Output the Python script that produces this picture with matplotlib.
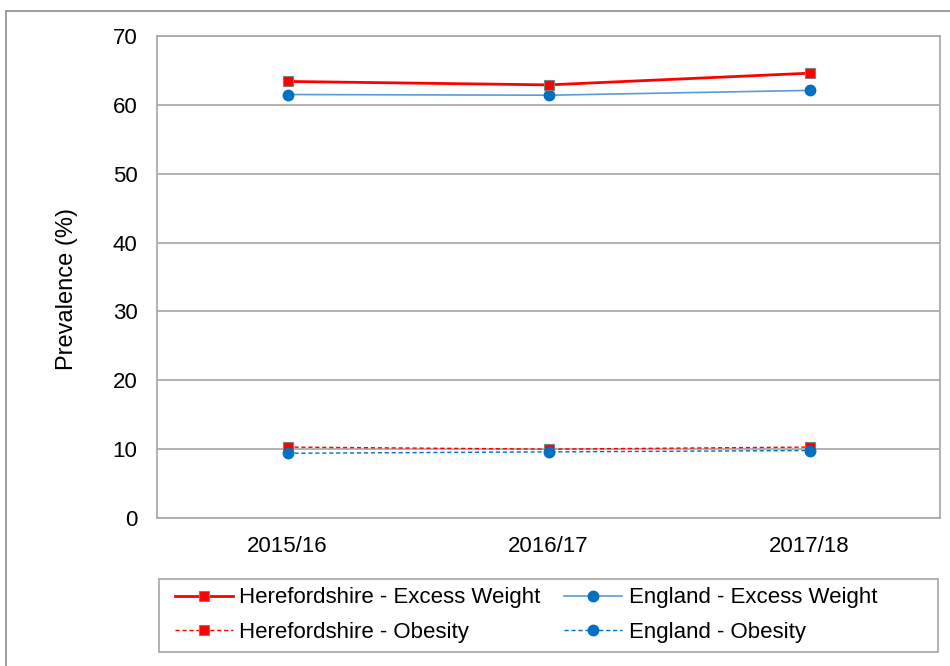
import matplotlib.pyplot as plt
from matplotlib.patches import Rectangle

plt.rcParams['font.family'] = ['Liberation Sans', 'DejaVu Sans']

years = ['2015/16', '2016/17', '2017/18']
here_excess = [63.4, 62.9, 64.6]
eng_excess = [61.5, 61.4, 62.1]
here_obesity = [10.3, 10.0, 10.3]
eng_obesity = [9.4, 9.6, 9.8]

red = '#ff0000'
blue = '#0070c0'
grey = '#a6a6a6'

W, H = 950, 666
fig = plt.figure(figsize=(W / 100, H / 100), dpi=100)
ax = fig.add_axes([157 / W, 148 / H, 783 / W, 482 / H])

# outer chart border (only top and left visible)
fig.patches.append(Rectangle((6 / W, -0.1), 1.2, 1.1 - 11 / H,
                             transform=fig.transFigure, fill=False,
                             edgecolor='#8c8c8c', linewidth=1.2))

x = range(len(years))
h1, = ax.plot(x, here_excess, color=red, lw=2, marker='s', ms=7.5,
              mec='#808080', mew=0.8, label='Herefordshire - Excess Weight', zorder=4)
h2, = ax.plot(x, eng_excess, color='#5b9bd5', lw=1.2, marker='o', ms=7.5,
              mfc=blue, mec=blue, label='England - Excess Weight', zorder=3)
h3, = ax.plot(x, here_obesity, color=red, lw=1, ls=(0, (3, 2)), marker='s', ms=7.5,
              mec='#808080', mew=0.8, label='Herefordshire - Obesity', zorder=3)
h4, = ax.plot(x, eng_obesity, color=blue, lw=1, ls=(0, (3, 2)), marker='o', ms=7.5,
              mfc=blue, mec=blue, label='England - Obesity', zorder=4)

ax.set_xlim(-0.5, 2.5)
ax.set_ylim(0, 70)
ax.set_yticks(range(0, 71, 10))
ax.set_xticks(list(x))
ax.set_xticklabels(years)
ax.tick_params(length=0, labelsize=16, colors='black')
ax.tick_params(axis='y', pad=14)
ax.tick_params(axis='x', pad=13)
ax.grid(axis='y', color=grey, lw=1.2)
ax.set_axisbelow(True)
for s in ax.spines.values():
    s.set_color(grey)
    s.set_linewidth(1.2)
ax.set_ylabel('Prevalence (%)', fontsize=17)
ax.yaxis.set_label_coords((78 - 157) / 783, (518 - 289) / 482)

# legend frame drawn separately so it spans the plot width
fig.patches.append(Rectangle((159 / W, 1 - 652 / H), 779 / W, 73 / H,
                             transform=fig.transFigure, fill=False,
                             edgecolor=grey, linewidth=1.2))
fig.legend(handles=[h1, h3, h2, h4], loc='center left',
           bbox_to_anchor=(175 / W, 1 - 615 / H), ncol=2, fontsize=16,
           frameon=False, borderpad=0, borderaxespad=0, handlelength=2.6,
           handletextpad=0.3, columnspacing=1.05, labelspacing=0.6,
           markerscale=1.0)

fig.savefig('out.png', dpi=100)
